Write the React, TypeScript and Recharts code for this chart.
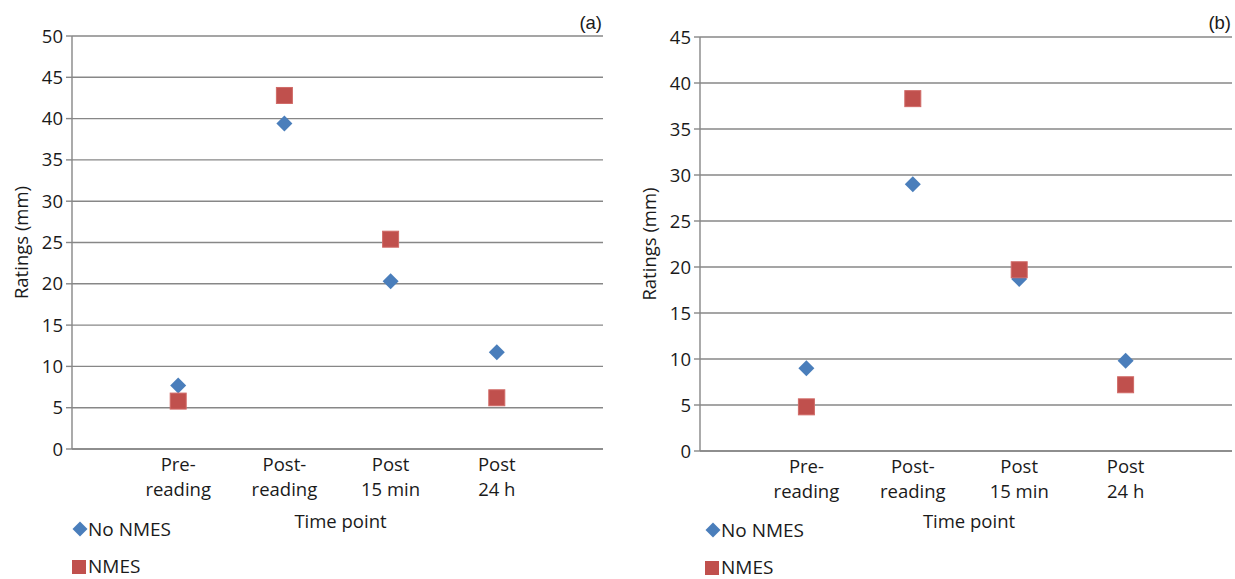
import React from "react";
import {
  ScatterChart,
  Scatter,
  XAxis,
  YAxis,
  CartesianGrid,
  Label,
} from "recharts";

const positions = [1, 2, 3, 4];
const tickLines: string[][] = [
  ["Pre-", "reading"],
  ["Post-", "reading"],
  ["Post", "15 min"],
  ["Post", "24 h"],
];

const noNmesA = [7.7, 39.4, 20.3, 11.7];
const nmesA = [5.8, 42.8, 25.4, 6.2];
const ticksA = [0, 5, 10, 15, 20, 25, 30, 35, 40, 45, 50];

const noNmesB = [9.0, 29.0, 18.7, 9.8];
const nmesB = [4.8, 38.3, 19.7, 7.2];
const ticksB = [0, 5, 10, 15, 20, 25, 30, 35, 40, 45];

const FONT = '"Open Sans", sans-serif';
const FS = 18.5;
const BLUE = "#4a7ebb";
const RED = "#c0504d";
const GRID = "#878787";
const TEXT = "#1a1a1a";

const toPoints = (vals: number[]) => positions.map((x, i) => ({ x, y: vals[i] }));

const Diamond = (props: any) => {
  const { cx, cy } = props;
  const r = props.r || 8;
  return (
    <polygon
      points={`${cx},${cy - r} ${cx + r},${cy} ${cx},${cy + r} ${cx - r},${cy}`}
      fill={BLUE}
    />
  );
};

const Square = (props: any) => {
  const { cx, cy } = props;
  const s = 16;
  return (
    <rect x={cx - s / 2} y={cy - s / 2} width={s} height={s} fill={RED} stroke="#d06a67" strokeWidth={1} />
  );
};

const XTick = (props: any) => {
  const { x, y, payload } = props;
  const lines = tickLines[payload.value - 1] || ["", ""];
  return (
    <text x={x} textAnchor="middle" fontFamily={FONT} fontSize={FS} fill={TEXT}>
      <tspan x={x} y={y + 14}>{lines[0]}</tspan>
      <tspan x={x} y={y + 39}>{lines[1]}</tspan>
    </text>
  );
};

type PanelProps = {
  tag: string;
  left: number;
  yMax: number;
  ticks: number[];
  noNmes: number[];
  nmes: number[];
  yAxisWidth: number;
  margin: { top: number; right: number; bottom: number; left: number };
  labelX: number;
  legendX: number;
  legendY: number;
};

function Panel(p: PanelProps) {
  const W = 615;
  const H = 579;
  return (
    <div style={{ position: "absolute", left: p.left, top: 0, width: W, height: H }}>
      <ScatterChart width={W} height={H} margin={p.margin}>
        <CartesianGrid vertical={false} stroke={GRID} strokeWidth={1.4} />
        <XAxis
          type="number"
          dataKey="x"
          domain={[0, 5]}
          ticks={positions}
          interval={0}
          height={60}
          tickLine={false}
          axisLine={{ stroke: GRID, strokeWidth: 1.4 }}
          tick={<XTick />}
        >
          <Label
            content={(lp: any) => {
              const vb = lp.viewBox;
              return (
                <text
                  x={vb.x + vb.width / 2 + 3}
                  y={528}
                  textAnchor="middle"
                  fontFamily={FONT}
                  fontSize={FS}
                  fill={TEXT}
                >
                  Time point
                </text>
              );
            }}
          />
        </XAxis>
        <YAxis
          type="number"
          dataKey="y"
          domain={[0, p.yMax]}
          ticks={p.ticks}
          interval={0}
          width={p.yAxisWidth}
          tickSize={6}
          tickMargin={3}
          tickLine={{ stroke: GRID, strokeWidth: 1.4 }}
          axisLine={{ stroke: GRID, strokeWidth: 1.4 }}
          tick={{ fontFamily: FONT, fontSize: FS, fill: TEXT }}
        >
          <Label
            content={(lp: any) => {
              const vb = lp.viewBox;
              const cy = vb.y + vb.height / 2;
              return (
                <text
                  x={p.labelX}
                  y={cy}
                  transform={`rotate(-90 ${p.labelX} ${cy})`}
                  textAnchor="middle"
                  dominantBaseline="central"
                  fontFamily={FONT}
                  fontSize={FS}
                  fill={TEXT}
                >
                  Ratings (mm)
                </text>
              );
            }}
          />
        </YAxis>
        <Scatter name="No NMES" data={toPoints(p.noNmes)} shape={<Diamond />} isAnimationActive={false} />
        <Scatter name="NMES" data={toPoints(p.nmes)} shape={<Square />} isAnimationActive={false} />
      </ScatterChart>
      <svg
        width={W}
        height={H}
        style={{ position: "absolute", left: 0, top: 0, pointerEvents: "none", overflow: "visible" }}
      >
        <text
          x={W - p.margin.right - 1}
          y={29}
          textAnchor="end"
          fontFamily='"Liberation Sans", Arial, sans-serif'
          fontSize={18.5}
          fill={TEXT}
        >
          {p.tag}
        </text>
        <Diamond cx={p.legendX} cy={p.legendY} r={7.5} />
        <text x={p.legendX + 8} y={p.legendY} dominantBaseline="central" fontFamily={FONT} fontSize={19} fill={TEXT}>
          No NMES
        </text>
        <rect x={p.legendX - 8} y={p.legendY + 38 - 7} width={14} height={14} fill={RED} />
        <text x={p.legendX + 8} y={p.legendY + 37} dominantBaseline="central" fontFamily={FONT} fontSize={19} fill={TEXT}>
          NMES
        </text>
      </svg>
    </div>
  );
}

export default function App() {
  return (
    <div style={{ position: "absolute", left: 0, top: 0, width: 1235, height: 579, background: "#fff" }}>
      <Panel
        tag="(a)"
        left={0}
        yMax={50}
        ticks={ticksA}
        noNmes={noNmesA}
        nmes={nmesA}
        yAxisWidth={72}
        margin={{ top: 36, right: 12, bottom: 70, left: 0 }}
        labelX={20}
        legendX={80}
        legendY={529}
      />
      <Panel
        tag="(b)"
        left={620}
        yMax={45}
        ticks={ticksB}
        noNmes={noNmesB}
        nmes={nmesB}
        yAxisWidth={80}
        margin={{ top: 37, right: 3, bottom: 68, left: 0 }}
        labelX={28}
        legendX={93}
        legendY={530}
      />
    </div>
  );
}
